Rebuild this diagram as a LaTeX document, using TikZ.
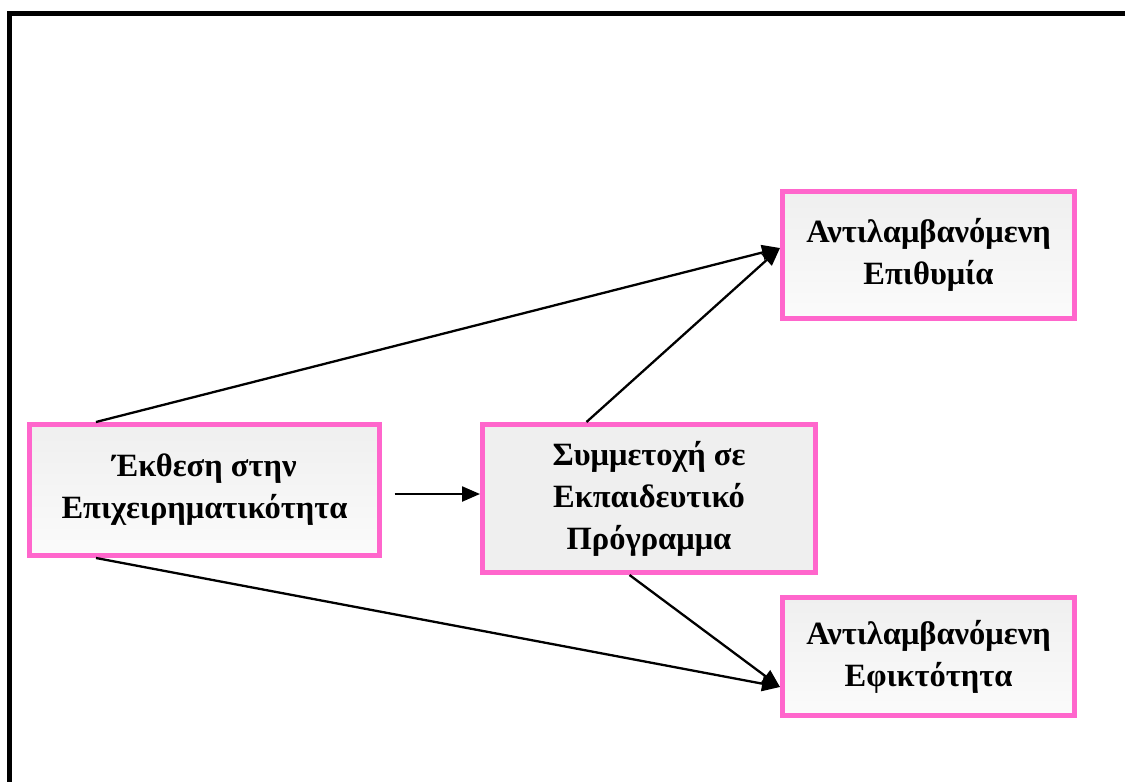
\documentclass[tikz,border=0pt]{standalone}
\usepackage{fontspec}
\setmainfont{Liberation Serif}
\usetikzlibrary{arrows.meta,calc}
\definecolor{boxpink}{RGB}{255,102,204}
\definecolor{boxgrayA}{RGB}{239,239,239}
\definecolor{boxgrayB}{RGB}{251,251,251}
\tikzset{
  varbox/.style={draw=boxpink, line width=5pt, top color=boxgrayA, bottom color=boxgrayB,
    align=center, inner sep=0pt, font=\bfseries\fontsize{32.5}{42}\selectfont},
  flowarrow/.style={line width=2.3pt, -{Triangle[length=18pt,width=15pt]}},
}
\begin{document}
\begin{tikzpicture}[x=1pt,y=-1pt]
\useasboundingbox (0,0) rectangle (1125,782);
\clip (0,0) rectangle (1125,782);
\fill[white] (0,0) rectangle (1125,782);
\draw[line width=5pt] (9.5,1200) -- (9.5,13) -- (1200,13);

\node[varbox, minimum width=350pt, minimum height=131pt] (L) at (204.5,490) {Έκθεση στην\\Επιχειρηματικότητα};
\node[varbox, minimum width=333pt, minimum height=148pt, top color=boxgrayA, bottom color=boxgrayA] (M) at (649,498.5) {Συμμετοχή σε\\Εκπαιδευτικό\\Πρόγραμμα};
\node[varbox, minimum width=292pt, minimum height=127pt] (TR) at (928.5,255) {Αντιλαμβανόμενη\\Επιθυμία};
\node[varbox, minimum width=292pt, minimum height=118pt] (BR) at (928.5,656.5) {Αντιλαμβανόμενη\\Εφικτότητα};

\coordinate (mstart) at ($(L.east)+(12.5,4)$);
\draw[flowarrow] ($(L.north west)+(69,0)$) -- ($(TR.west)+(0,-7)$);
\draw[flowarrow] ($(L.south west)+(69,0)$) -- ($(BR.west)+(0,30.5)$);
\draw[flowarrow] (mstart) -- (mstart -| M.west);
\draw[flowarrow] ($(M.north west)+(106.5,0)$) -- ($(TR.west)+(0,-7)$);
\draw[flowarrow] ($(M.south west)+(149.5,0)$) -- ($(BR.west)+(0,30.5)$);
\end{tikzpicture}
\end{document}
